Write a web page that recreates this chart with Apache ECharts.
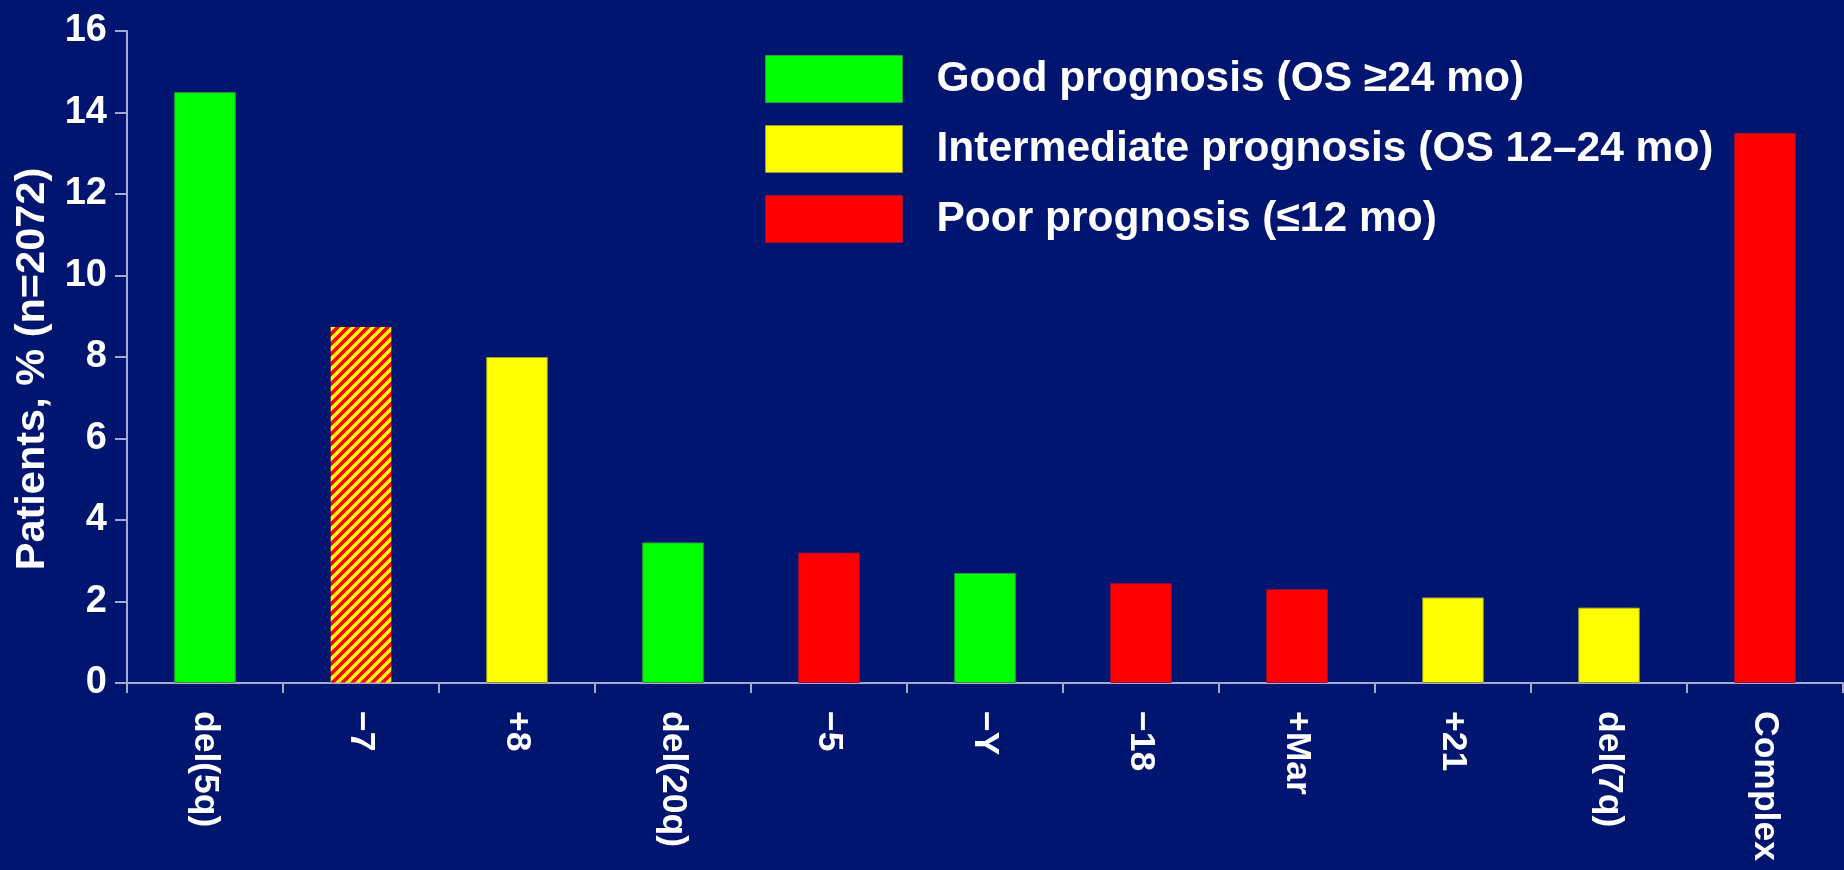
<!DOCTYPE html>
<html>
<head>
<meta charset="utf-8">
<script src="https://cdn.jsdelivr.net/npm/echarts@6/dist/echarts.min.js"></script>
<style>
  html, body { margin: 0; padding: 0; background: #001570; }
  #chart { width: 1844px; height: 870px; }
</style>
</head>
<body>
<div id="chart"></div>
<script>
// Cytogenetic abnormalities: share of patients (%) and prognostic group
const categories = ['del(5q)', '\u22127', '+8', 'del(20q)', '\u22125', '\u2212Y', '\u221218', '+Mar', '+21', 'del(7q)', 'Complex'];
const patientsPct = [14.5, 8.75, 8.0, 3.45, 3.2, 2.7, 2.45, 2.3, 2.1, 1.85, 13.5];
const prognosisGroup = ['good', 'mixed', 'intermediate', 'good', 'poor', 'good', 'poor', 'poor', 'intermediate', 'intermediate', 'poor'];

const groupNames = {
  good: 'Good prognosis (OS \u226524 mo)',
  intermediate: 'Intermediate prognosis (OS 12\u201324 mo)',
  poor: 'Poor prognosis (\u226412 mo)',
  mixed: 'Intermediate/poor'
};
const yTicks = { min: 0, max: 16, step: 2 };

// Red/yellow diagonal hatch for the mixed-prognosis bar
function hatchPattern() {
  const s = 10;
  const c = document.createElement('canvas');
  c.width = s; c.height = s;
  const g = c.getContext('2d');
  g.fillStyle = '#ff0000';
  g.fillRect(0, 0, s, s);
  g.strokeStyle = '#ffff00';
  g.lineWidth = 3.4;
  g.beginPath();
  g.moveTo(0, s); g.lineTo(s, 0);
  g.moveTo(-s / 2, s / 2); g.lineTo(s / 2, -s / 2);
  g.moveTo(s / 2, s + s / 2); g.lineTo(s + s / 2, s / 2);
  g.stroke();
  return c;
}

const groupStyle = {
  good: { color: '#00ff00', borderColor: '#2a9a3a' },
  intermediate: { color: '#ffff00', borderColor: '#9a9a30' },
  poor: { color: '#ff0000', borderColor: '#a01030' },
  mixed: { color: { image: hatchPattern(), repetition: 'repeat' }, borderColor: 'rgba(0,0,0,0)' }
};

const shadowText = {
  color: '#ffffff',
  fontFamily: '"Liberation Sans", Arial, sans-serif',
  fontWeight: 'bold',
  textShadowColor: '#000000',
  textShadowOffsetX: 2,
  textShadowOffsetY: 2,
  textShadowBlur: 0
};

const series = ['good', 'intermediate', 'poor', 'mixed'].map(key => ({
  name: groupNames[key],
  type: 'bar',
  stack: 'all',
  barWidth: '39.5%',
  itemStyle: Object.assign({ borderWidth: 1 }, groupStyle[key]),
  data: patientsPct.map((v, i) => prognosisGroup[i] === key ? v : '-')
}));

const chart = echarts.init(document.getElementById('chart'), null, { renderer: 'canvas' });
chart.setOption({
  backgroundColor: '#001570',
  animation: false,
  grid: { left: 127, right: 1, top: 31, bottom: 187, containLabel: false },
  legend: {
    orient: 'vertical',
    left: 760,
    top: 50,
    itemWidth: 137,
    itemHeight: 47,
    itemGap: 22,
    icon: 'rect',
    data: [groupNames.good, groupNames.intermediate, groupNames.poor],
    textStyle: Object.assign({}, shadowText, { fontSize: 42.5, padding: [0, 0, 0, 29] }),
    itemStyle: { borderWidth: 1 },
    selectedMode: false
  },
  xAxis: {
    type: 'category',
    data: categories,
    boundaryGap: true,
    axisLine: { lineStyle: { color: '#a3a9cf', width: 2 } },
    axisTick: { show: true, length: 10, lineStyle: { color: '#a3a9cf', width: 2 } },
    axisLabel: Object.assign({}, shadowText, { rotate: -90, fontSize: 35.5, margin: 28, interval: 0 })
  },
  yAxis: {
    type: 'value',
    min: yTicks.min,
    max: yTicks.max,
    interval: yTicks.step,
    name: 'Patients, % (n=2072)',
    nameLocation: 'middle',
    nameRotate: 90,
    nameGap: 70,
    nameTextStyle: Object.assign({}, shadowText, { fontSize: 41.5, padding: [0, 24, 0, 0] }),
    splitLine: { show: false },
    axisLine: { show: true, lineStyle: { color: '#a3a9cf', width: 2 } },
    axisTick: { show: true, length: 12, lineStyle: { color: '#a3a9cf', width: 2 } },
    axisLabel: Object.assign({}, shadowText, { fontSize: 38, margin: 20 })
  },
  series: series
});
</script>
</body>
</html>
